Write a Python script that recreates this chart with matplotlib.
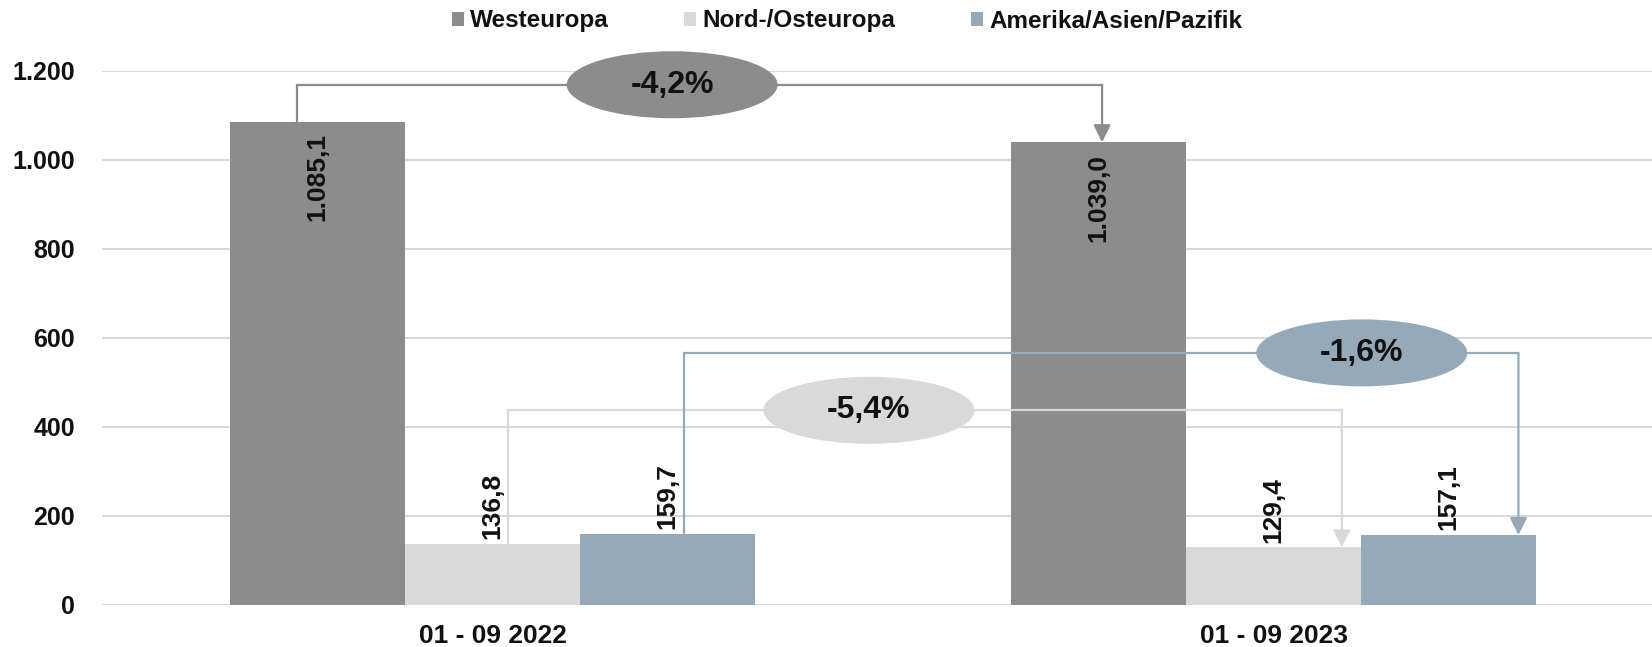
import numpy as np
import matplotlib.pyplot as plt
from matplotlib.patches import Ellipse

plt.rcParams['font.family'] = ['Liberation Sans', 'DejaVu Sans']
plt.rcParams['font.weight'] = 'bold'

# data
categories = ['01 - 09 2022', '01 - 09 2023']
series = ['Westeuropa', 'Nord-/Osteuropa', 'Amerika/Asien/Pazifik']
westeuropa = [1085.1, 1039.0]
nordosteuropa = [136.8, 129.4]
amerika = [159.7, 157.1]
changes = ['-4,2%', '-5,4%', '-1,6%']

colors = ['#8c8c8c', '#d9d9d9', '#95a9b8']

# connector layout: level of horizontal line, x offsets (in bar widths) at start/end, ellipse x centre
conn_level = [1168, 437, 566]
conn_start = [-0.115, 0.09, 0.095]
conn_end = [0.02, 0.39, 0.40]
ellipse_x = [0.230, 0.482, 1.113]


def de_fmt(v):
    s = f"{v:,.1f}"
    return s.replace(',', 'X').replace('.', ',').replace('X', '.')


fig = plt.figure(figsize=(16.52, 6.47), dpi=100)
ax = fig.add_axes([102 / 1652, 42 / 647, 1 - 102 / 1652, (605 - 70.5) / 647])

x = np.arange(len(categories))
bw = 0.224
vals = [westeuropa, nordosteuropa, amerika]

ax.set_axisbelow(True)
ax.yaxis.grid(True, color='#d9d9d9', lw=1.5)
bars = []
for i, (name, v) in enumerate(zip(series, vals)):
    b = ax.bar(x + (i - 1) * bw, v, bw, color=colors[i], label=name, zorder=2)
    bars.append(b)
    for xi, vi in zip(x + (i - 1) * bw, v):
        if vi > 500:
            ax.annotate(de_fmt(vi), (xi, vi), xytext=(0, -8.5), textcoords='offset points',
                        rotation=90, ha='center', va='top', fontsize=19, color='#111111', zorder=5)
        else:
            ax.annotate(de_fmt(vi), (xi, vi), xytext=(0, 3.5), textcoords='offset points',
                        rotation=90, ha='center', va='bottom', fontsize=19, color='#111111', zorder=5)

# change connectors
for i, v in enumerate(vals):
    x0 = x[0] + (i - 1) * bw + conn_start[i] * bw
    x1 = x[1] + (i - 1) * bw + conn_end[i] * bw
    lvl = conn_level[i]
    ax.plot([x0, x0, x1, x1], [v[0], lvl, lvl, lvl], color=colors[i], lw=1.6,
            zorder=3, clip_on=False, solid_joinstyle='miter')
    ax.annotate('', xy=(x1, v[1]), xytext=(x1, lvl),
                arrowprops=dict(arrowstyle='-|>,head_length=0.4,head_width=0.2',
                                mutation_scale=26, color=colors[i], lw=1.6,
                                shrinkA=0, shrinkB=0),
                zorder=3, annotation_clip=False)
    ell = Ellipse((ellipse_x[i], lvl), 211 / 781, 67 / (534.5 / 1200),
                  facecolor=colors[i], edgecolor='none', zorder=4, clip_on=False)
    ax.add_patch(ell)
    ax.text(ellipse_x[i], lvl, changes[i], ha='center', va='center', fontsize=23,
            color='#111111', zorder=5)

ax.set_xlim(-0.5, 1.4846)
ax.set_ylim(0, 1200)
ax.set_yticks(range(0, 1201, 200))
ax.set_yticklabels([de_fmt(t)[:-2] for t in range(0, 1201, 200)])
ax.set_xticks(x)
ax.set_xticklabels(categories)
ax.tick_params(axis='y', length=0, pad=19.5, labelsize=18, labelcolor='#111111')
ax.tick_params(axis='x', length=0, pad=14, labelsize=19, labelcolor='#111111')
for s in ax.spines.values():
    s.set_visible(False)

fig.legend(handles=bars, labels=series, loc='center', bbox_to_anchor=(847 / 1652, 1 - 21 / 647),
           ncol=3, frameon=False, fontsize=17.5, handlelength=0.5, handleheight=0.5,
           handletextpad=0.25, columnspacing=3.1, labelcolor='#111111')

fig.savefig('out.png', dpi=100)
